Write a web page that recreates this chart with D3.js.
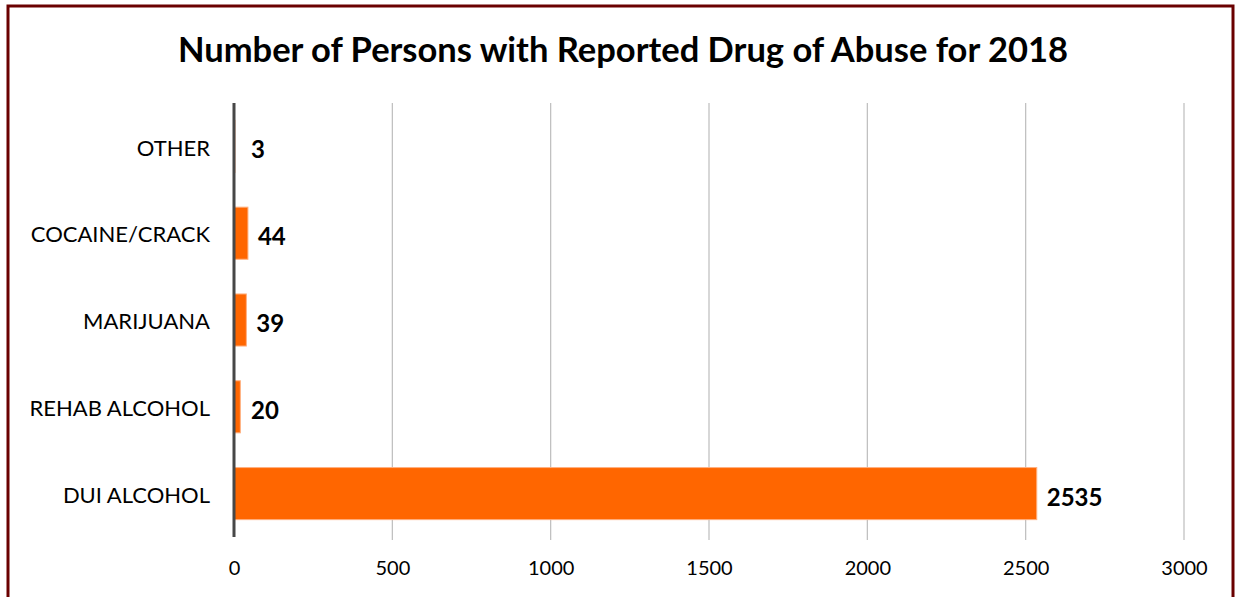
<!DOCTYPE html>
<html>
<head>
<meta charset="utf-8">
<script src="https://cdn.jsdelivr.net/npm/d3@7"></script>
<style>
  body { margin: 0; background: #fff; }
  svg { display: block; }
</style>
</head>
<body>
<div id="chart"></div>
<script>
const categories = ["OTHER", "COCAINE/CRACK", "MARIJUANA", "REHAB ALCOHOL", "DUI ALCOHOL"];
const values = [3, 44, 39, 20, 2535];
const xTicks = [0, 500, 1000, 1500, 2000, 2500, 3000];
const title = "Number of Persons with Reported Drug of Abuse for 2018";

const W = 1236, H = 597;
const font = "Lato, 'Open Sans', sans-serif";
const margin = { top: 103, right: 52, bottom: 60, left: 234 },
  width = 1184 - margin.left,
  height = 537 - margin.top;

const root = d3.select("#chart")
  .append("svg")
  .attr("width", W)
  .attr("height", H);

root.append("rect")
  .attr("x", 8).attr("y", 6)
  .attr("width", 1225).attr("height", 600)
  .attr("fill", "#fff")
  .attr("stroke", "#6a0000")
  .attr("stroke-width", 3);

root.append("text")
  .attr("x", 623)
  .attr("y", 62)
  .attr("text-anchor", "middle")
  .attr("font-family", font)
  .attr("font-weight", "bold")
  .attr("font-size", 34.5)
  .attr("fill", "#000")
  .text(title);

const svg = root.append("g")
  .attr("transform", `translate(${margin.left},${margin.top})`);

const x = d3.scaleLinear()
  .domain([0, 3000])
  .range([0, width]);

const y = d3.scaleBand()
  .domain(categories)
  .range([0, height])
  .paddingInner(0.4)
  .paddingOuter(0.2);

// gridlines
svg.selectAll(".grid")
  .data(xTicks.slice(1))
  .join("line")
  .attr("x1", d => x(d)).attr("x2", d => x(d))
  .attr("y1", 0).attr("y2", height + 3)
  .attr("stroke", "#bdbdbd")
  .attr("stroke-width", 1.2);

// x tick labels
const xAxis = svg.append("g")
  .attr("transform", `translate(0,${height})`)
  .call(d3.axisBottom(x).tickValues(xTicks).tickFormat(d3.format("d")).tickSize(0).tickPadding(24));
xAxis.select(".domain").remove();
xAxis.selectAll("text")
  .attr("font-family", font)
  .attr("font-size", 20)
  .attr("fill", "#000");

// y labels
const yAxis = svg.append("g")
  .call(d3.axisLeft(y).tickSize(0).tickPadding(24));
yAxis.select(".domain").remove();
yAxis.selectAll("text")
  .attr("font-family", font)
  .attr("font-size", 22)
  .attr("dy", "0.42em")
  .attr("fill", "#000");

// bars
svg.selectAll(".bar")
  .data(categories)
  .join("rect")
  .attr("x", x(0))
  .attr("y", d => y(d))
  .attr("width", (d, i) => x(values[i]))
  .attr("height", y.bandwidth())
  .attr("fill", "#ff6600")
  .attr("stroke", "#ffb080")
  .attr("stroke-width", 1);

// value labels
svg.selectAll(".val")
  .data(categories)
  .join("text")
  .attr("x", (d, i) => Math.max(17, x(values[i]) + 10))
  .attr("y", d => y(d) + y.bandwidth() / 2)
  .attr("dy", "0.5em")
  .attr("font-family", font)
  .attr("font-weight", "bold")
  .attr("font-size", 24)
  .attr("fill", "#000")
  .text((d, i) => values[i]);

// y axis line
svg.append("line")
  .attr("x1", 0).attr("x2", 0)
  .attr("y1", 0).attr("y2", height)
  .attr("stroke", "#474747")
  .attr("stroke-width", 3);
</script>
</body>
</html>
